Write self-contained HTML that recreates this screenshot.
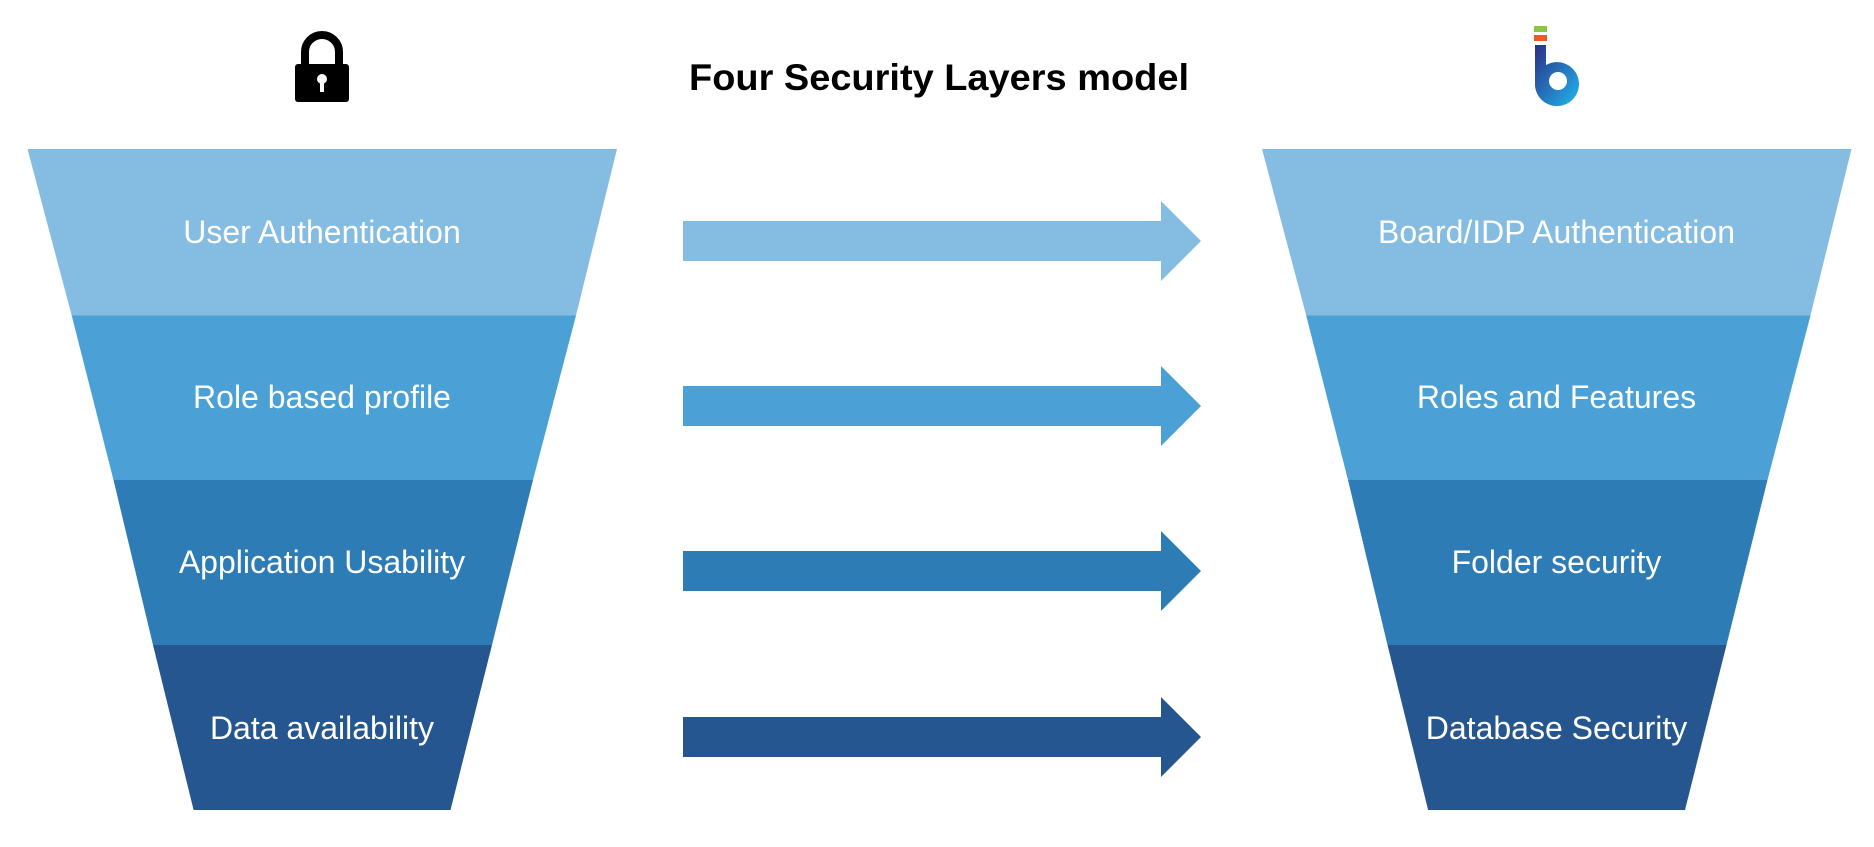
<!DOCTYPE html>
<html><head><meta charset="utf-8"><style>
body{margin:0;background:#fff;}
svg{display:block}
text{font-family:"Liberation Sans",sans-serif;}
</style></head><body>
<svg width="1874" height="847" viewBox="0 0 1874 847" xmlns="http://www.w3.org/2000/svg">
<defs>
<linearGradient id="lg" x1="0" y1="0" x2="1" y2="1"><stop offset="0" stop-color="#2b2f86"/><stop offset="1" stop-color="#1fb6ee"/></linearGradient>
</defs>
<text x="939" y="90" text-anchor="middle" font-size="37" font-weight="bold" fill="#000" textLength="500" lengthAdjust="spacingAndGlyphs">Four Security Layers model</text>
<!-- lock -->
<path d="M305 66 V52 a17 17 0 0 1 34 0 V66" fill="none" stroke="#000" stroke-width="8"/>
<rect x="295" y="64" width="54" height="38" rx="3" fill="#000"/>
<circle cx="322" cy="79" r="5" fill="#fff"/><rect x="320" y="80" width="4" height="12" fill="#fff"/>
<!-- logo -->
<rect x="1534" y="26" width="13" height="6" fill="#8cc63f"/>
<rect x="1534" y="35" width="13" height="6" fill="#ef5a24"/>
<path d="M1535 45 h11 v20 a22 22 0 1 1 -11 18 Z" fill="url(#lg)"/>
<circle cx="1558" cy="81" r="9" fill="#fff"/>
<!-- left funnel -->
<polygon points="27.5,149 617,149 576,315.5 71.7,315.5" fill="#85bce1"/>
<polygon points="71.7,315.5 576,315.5 533,480 113.5,480" fill="#4ba0d5"/>
<polygon points="113.5,480 533,480 492,645 153,645" fill="#2e7cb5"/>
<polygon points="153,645 492,645 450.5,810 193.6,810" fill="#26568f"/>
<g fill="#fff" font-size="32" text-anchor="middle">
<text x="322" y="243">User Authentication</text>
<text x="322" y="408">Role based profile</text>
<text x="322" y="573">Application Usability</text>
<text x="322" y="739">Data availability</text>
</g>
<!-- right funnel -->
<g transform="translate(1234.5,0)">
<polygon points="27.5,149 617,149 576,315.5 71.7,315.5" fill="#85bce1"/>
<polygon points="71.7,315.5 576,315.5 533,480 113.5,480" fill="#4ba0d5"/>
<polygon points="113.5,480 533,480 492,645 153,645" fill="#2e7cb5"/>
<polygon points="153,645 492,645 450.5,810 193.6,810" fill="#26568f"/>
<g fill="#fff" font-size="32" text-anchor="middle">
<text x="322" y="243">Board/IDP Authentication</text>
<text x="322" y="408">Roles and Features</text>
<text x="322" y="573">Folder security</text>
<text x="322" y="739">Database Security</text>
</g>
</g>
<!-- arrows -->
<g>
<polygon transform="translate(0,241)" points="683,-20 1161,-20 1161,-40 1201,0 1161,40 1161,20 683,20" fill="#85bce1"/>
<polygon transform="translate(0,406)" points="683,-20 1161,-20 1161,-40 1201,0 1161,40 1161,20 683,20" fill="#4ba0d5"/>
<polygon transform="translate(0,571)" points="683,-20 1161,-20 1161,-40 1201,0 1161,40 1161,20 683,20" fill="#2e7cb5"/>
<polygon transform="translate(0,737)" points="683,-20 1161,-20 1161,-40 1201,0 1161,40 1161,20 683,20" fill="#26568f"/>
</g>
</svg>
</body></html>
